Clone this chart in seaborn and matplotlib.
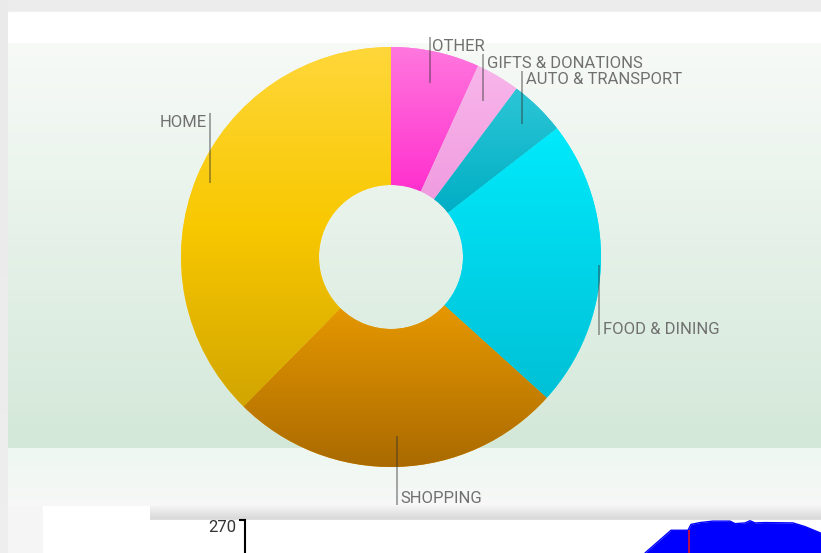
import numpy as np
import matplotlib
matplotlib.use("Agg")
import matplotlib.pyplot as plt
import matplotlib.colors as mcolors
from matplotlib.patches import Rectangle
import seaborn as sns

# ---- data ----
categories = ["OTHER", "GIFTS & DONATIONS", "AUTO & TRANSPORT",
              "FOOD & DINING", "SHOPPING", "HOME"]
shares = [6.8, 3.4, 4.3, 22.2, 25.7, 37.6]

trend_x = [400, 426, 443, 446, 455, 468, 485, 490, 500, 505, 510, 520, 548, 560, 576]
trend_y = [225, 256, 256, 264, 266.5, 268.5, 268.5, 265, 266, 269, 266, 266.5, 266, 261, 252]
axis_label = "270"
marker_x = 444

# ---- style ----
sns.set_theme(style="white")
plt.rcParams['font.family'] = ['Roboto', 'DejaVu Sans']

grads = [("#FF78DE", "#FF30CE"),   # OTHER
         ("#F8B6EA", "#F09CE0"),   # GIFTS
         ("#2CC6D6", "#00AEC4"),   # AUTO
         ("#00EAFC", "#00C0D6"),   # FOOD
         ("#E69800", "#AA6A00"),   # SHOPPING
         ("#FFD73A", "#D2A500")]   # HOME

W, H = 821, 553
fig = plt.figure(figsize=(W / 100, H / 100), dpi=100)
fig.patch.set_facecolor('#ECECEC')


def vgrad(ax, x0, x1, ytop, ybot, ctop, cbot, z=1, n=256, mid=None):
    a = np.array(mcolors.to_rgb(ctop))
    b = np.array(mcolors.to_rgb(cbot))
    t = np.linspace(0, 1, n)[:, None, None]
    if mid is not None:
        m = np.array(mcolors.to_rgb(mid))
        arr = np.where(t < 0.5, a + (m - a) * (t / 0.5), m + (b - m) * ((t - 0.5) / 0.5))
    else:
        arr = a + (b - a) * t
    return ax.imshow(arr, extent=(x0, x1, ybot, ytop), origin='upper',
                     aspect='auto', interpolation='bilinear', zorder=z)


# ---- background (pixel coordinates) ----
bg = fig.add_axes([0, 0, 1, 1])
bg.axis('off')
bg.add_patch(Rectangle((8, 12), W - 8, 494, color='white', zorder=0))
vgrad(bg, 8, W, 43, 448, "#F7FAF7", "#D3E8D9", z=1)
vgrad(bg, 8, W, 448, 506, "#EEF7F1", "#F7F8F7", z=1)
vgrad(bg, 0, 8, 0, H, "#EAEAEA", "#EEEEEE", z=0.5)
bg.add_patch(Rectangle((8, 506), W - 8, H - 506, color='#F5F5F5', zorder=1))
bg.add_patch(Rectangle((43, 506), 110, H - 506, color='white', zorder=1.2))
vgrad(bg, 150, W, 506, 520, "#F4F4F4", "#D6D6D6", z=1.3)
bg.add_patch(Rectangle((150, 520), W - 150, H - 520, color='white', zorder=1.4))
bg.text(236.5, 527.5, axis_label, ha='right', va='center', fontsize=12,
        color='#333333', zorder=3)
bg.set_xlim(0, W)
bg.set_ylim(H, 0)

# ---- donut ----
cx, cy, R = 391, 257, 210
ax = fig.add_axes([(cx - R) / W, (H - cy - R) / H, 2 * R / W, 2 * R / H])
hole = 72 / R
wedges, _ = ax.pie(shares, startangle=90, counterclock=False, radius=1,
                   colors=[g[0] for g in grads],
                   wedgeprops=dict(width=1 - hole, linewidth=0))
for i, (w, (ct, cb)) in enumerate(zip(wedges, grads)):
    th = np.radians(np.linspace(w.theta1, w.theta2, 300))
    ys = np.concatenate([w.r * np.sin(th), (w.r - w.width) * np.sin(th)])
    mid = "#F8C800" if i == len(wedges) - 1 else None
    im = vgrad(ax, -1.05, 1.05, ys.max(), ys.min(), ct, cb, z=2, mid=mid)
    im.set_clip_path(w)


def p2d(px, py):
    return (px - cx) / R, (cy - py) / R


labels = [  # text x, baseline y, ha, line x, line y0, line y1 (pixels)
    (432.0, 51.0, 'left', 429.5, 37.0, 83.0),
    (486.5, 68.0, 'left', 483.0, 54.0, 100.7),
    (525.5, 83.8, 'left', 522.3, 70.7, 124.3),
    (602.5, 333.5, 'left', 599.0, 265.0, 335.0),
    (400.5, 503.0, 'left', 396.7, 435.7, 505.0),
    (206.5, 127.0, 'right', 209.7, 112.7, 182.7),
]
for name, (tx, ty, ha, lx, ly0, ly1) in zip(categories, labels):
    x0, y0 = p2d(lx, ly0)
    x1, y1 = p2d(lx, ly1)
    ax.plot([x0, x1], [y0, y1], color='#303030', alpha=0.45, lw=1.3,
            zorder=5, clip_on=False, solid_capstyle='butt')
    dx, dy = p2d(tx, ty)
    ax.text(dx, dy, name, ha=ha, va='baseline', fontsize=12,
            color='#707070', zorder=6, clip_on=False)

ax.set_xlim(-1, 1)
ax.set_ylim(-1, 1)
ax.set_aspect('equal')
ax.axis('off')

# ---- bottom trend chart (partially visible) ----
ax2 = fig.add_axes([245 / W, 0, (W - 245) / W, 33 / H])
ax2.set_facecolor('white')
ax2.fill_between(trend_x, trend_y, 200, color='#0000FF', lw=0)
sns.lineplot(x=trend_x, y=trend_y, ax=ax2, color='#0000FF', lw=1)
ax2.vlines(marker_x, 225, 256, color='#E0102A', lw=1.2, zorder=5)
ax2.set_xlim(0, 576)
ax2.set_ylim(225, 270)
for s in ['top', 'right', 'bottom']:
    ax2.spines[s].set_visible(False)
ax2.spines['left'].set_color('black')
ax2.spines['left'].set_linewidth(1.5)
ax2.set_xticks([])
ax2.set_yticks([270])
ax2.set_yticklabels([""])
ax2.tick_params(axis='y', left=True, length=4, width=1.5, color='black')
ax2.set_xlabel("")
ax2.set_ylabel("")

fig.savefig("out.png", dpi=100, facecolor=fig.get_facecolor())
